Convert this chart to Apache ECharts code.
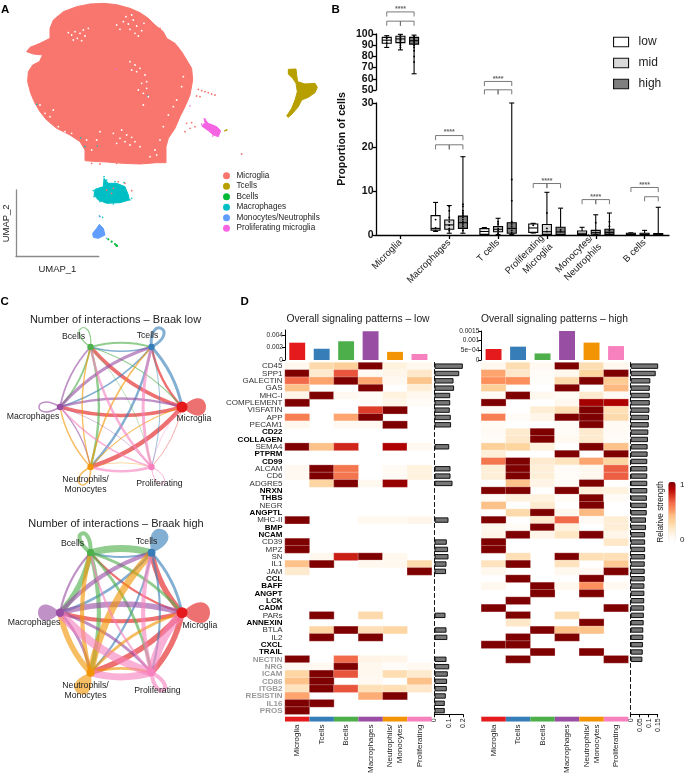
<!DOCTYPE html>
<html><head><meta charset="utf-8">
<style>html,body{margin:0;padding:0;background:#fff}#c{width:685px;height:776px}</style>
<script src="https://cdn.jsdelivr.net/npm/echarts@6/dist/echarts.min.js"></script>
</head><body><div id="c"></div>
<script>
// ---------- Panel A data: UMAP embedding outlines and stray cells ----------
const umapMicrogliaOutline=[[270,12],[310,10],[350,14],[390,25],[420,38],[445,55],[465,75],[490,95],[500,115],[525,130],[545,155],[560,180],[575,205],[578,240],[570,285],[555,320],[540,350],[525,385],[505,415],[498,440],[498,488],[470,488],[420,492],[370,490],[320,486],[280,484],[255,482],[255,450],[240,425],[210,405],[170,385],[140,360],[120,335],[105,310],[92,280],[83,245],[85,215],[98,195],[118,185],[128,165],[100,162],[80,155],[90,142],[120,130],[150,115],[150,85],[160,60],[190,35],[230,20]];
const umapTcellOutline=[[865,208],[888,207],[890,225],[893,245],[915,252],[945,250],[952,262],[945,278],[925,292],[905,300],[895,320],[878,340],[865,352],[860,348],[875,325],[885,300],[892,275],[888,250],[878,235],[865,222]];
const umapMacrophageOutline=[[312,535],[325,550],[350,550],[375,560],[385,585],[388,600],[360,608],[320,610],[295,600],[282,585],[285,568],[310,560]];
const umapMonocyteOutline=[[298,673],[310,685],[315,705],[295,715],[280,712],[278,700],[290,685]];
const umapProliferatingOutline=[[612,355],[625,370],[650,380],[662,392],[655,410],[640,405],[625,392],[605,378],[615,368]];
const umapGaps=[[225,95],[240,100],[250,90],[215,105],[232,115],[255,108],[265,85],[245,122],[220,120],[205,98],[370,65],[385,72],[400,60],[390,88],[410,78],[425,92],[378,50],[405,100],[395,45],[432,70],[350,75],[360,88],[415,108],[390,185],[405,195],[420,205],[435,225],[425,250],[440,265],[430,280],[415,270],[445,290],[430,315],[410,215],[395,210],[440,245],[360,415],[375,425],[390,435],[405,425],[380,405],[395,412],[350,430],[420,440],[465,450],[450,470],[470,465],[340,400],[365,390],[135,340],[150,350],[175,380],[195,395],[215,400],[120,315],[160,330],[230,440],[275,450],[290,420],[300,395],[260,420],[520,320],[505,345],[490,380],[530,300],[545,260],[550,230],[480,420]];
const umapMicrogliaStray=[[85,240],[560,370],[575,368],[585,380],[570,385],[555,395],[600,290],[590,288],[725,462],[275,490],[300,492],[350,490],[510,125],[480,85],[595,268],[605,272],[615,275],[625,278],[635,282],[645,285],[320,570],[340,565],[355,545],[335,580],[395,572],[375,550]];
const umapMacrophageStray=[[312,530],[320,540],[298,648],[308,652],[395,595],[110,313],[443,288],[242,414],[255,440],[292,438],[280,572],[282,590],[300,605],[340,612],[390,600],[372,548],[345,545]];
const umapMonocyteStray=[[320,715],[300,650],[306,692]];
const umapBcellStray=[[325,718],[335,725],[345,732],[350,737],[351,738],[349,736]];
const umapProliferatingStray=[[570,318],[348,208],[605,372],[638,408],[616,358]];
const umapTcellStray=[[680,390],[675,392]];
const umapLegendNames=['Microglia','Tcells','Bcells','Macrophages','Monocytes/Neutrophils','Proliferating microglia'];
const umapColors=['#F8766D','#B79F00','#00BA38','#00BFC4','#619CFF','#F564E3'];

// ---------- Panel B data ----------
const cellCategories=['Microglia','Macrophages','T cells','Proliferating\nMicroglia','Monocytes/\nNeutrophils','B cells'];
const upperTicks=[50,60,70,80,90,100];
const lowerTicks=[0,10,20,30];
// [category, min, q1, median, q3, max]
const boxLow=[[0,88,91.7,94.5,97,98.5],[1,0.8,1.1,1.5,4.4,7.4],[2,0,0.15,0.8,1.45,1.7],[3,0.45,0.6,1.6,2.5,2.65],[4,0,0.1,0.4,0.9,1.75],[5,0,0.1,0.2,0.4,0.5]];
const boxMid=[[0,85.8,92.3,95.6,98,99.7],[1,0.4,1.3,2.3,3.4,6.7],[2,0.1,0.75,1.3,1.9,3.8],[3,0,0.15,0.75,2.4,9.7],[4,0.05,0.2,0.6,1.05,4.6],[5,0,0.1,0.15,0.4,1.05]];
const boxHigh=[[0,64.5,91,94,97,99],[1,0.4,1.5,2.8,4.3,17.8],[2,0.1,0.4,1.5,2.8,30],[3,0,0.1,0.7,1.75,6.1],[4,0,0.15,0.6,1.3,5],[5,0,0.05,0.15,0.35,6.3]];
const dotsLow=[[0,94],[0,96],[0,92],[1,3.5],[1,1.6],[1,1],[3,2.2]];
const dotsMid=[[0,99],[0,97],[0,96],[0,95],[0,94],[0,93],[0,92],[0,90],[0,88],[1,6.5],[1,5.5],[1,4],[1,3],[1,2.2],[1,1.5],[1,1],[2,3],[2,2.5],[2,1.5],[2,1],[2,0.4],[3,5],[3,1.5],[3,0.8],[4,2.8],[4,1],[4,0.5]];
const dotsHigh=[[0,98],[0,97],[0,96],[0,95],[0,94],[0,93],[0,92],[0,90],[0,88],[0,85],[0,80],[0,75],[1,7],[1,6.5],[1,5.5],[1,5],[1,4.5],[1,4],[1,3.5],[1,3],[1,2.5],[1,2],[1,1.5],[1,1],[2,12.6],[2,7.8],[2,3],[2,2.5],[2,2],[2,1.5],[2,1],[2,0.5],[3,1.2],[3,0.8],[4,3],[4,2],[4,1],[4,0.5]];
// [category, from group, to group, level]
const brackets=[[0,-1,1,50.7],[0,-1,0,48.6],[0,0,1,48.6],[1,-1,1,22.6],[1,-1,0,20.5],[1,0,1,20.5],[2,-1,1,34.9],[2,-1,0,33],[2,0,1,33],[3,-1,0,11.7],[3,0,1,11.7],[4,-1,0,8.05],[4,0,1,8.05],[5,-1,1,10.8],[5,0,1,8.7]];
// [category, level]
const starMarks=[[0,51.4],[1,23.3],[2,35.5],[3,12.3],[4,8.6],[5,11.3]];
const starText='****';
const severityNames=['low','mid','high'];

// ---------- Panel C data ----------
const nodeNames=['Microglia','Tcells','Bcells','Macrophages','Neutrophils/\nMonocytes','Proliferating'];
const nodeX=[1,0.5,-0.5,-1,-0.5,0.5];
const nodeY=[0,1,1,0,-1,-1];
const cellColors=['#E41A1C','#377EB8','#4DAF4A','#984EA3','#F29403','#F781BF'];
const interactionsLow=[
 [0,2.4,3.6,3.6,4.2,0.6],
 [3,3,1.4,1.8,2.4,0.8],
 [1.2,1.8,1.2,1.8,2.4,0.6],
 [2.4,3,1.8,1.5,1.2,0.6],
 [1.2,1.8,1.4,1.4,1.5,0.6],
 [0.6,3,2.4,1.8,2.4,1]];
const interactionsHigh=[
 [0,5.6,2.1,4.2,5.6,5.6],
 [2.8,0,2.1,2.8,2.1,2.1],
 [2.8,7,4,5.6,4.2,2.8],
 [5.6,4.2,2.1,0,2.8,2.8],
 [2.8,7,4.2,5.6,0,2.8],
 [8.4,4.2,2.1,8.4,7,4]];
const loopFilledLow=[true,false,false,false,false,false];
const loopFilledHigh=[true,true,false,true,true,false];

// ---------- Panel D data ----------
const signalingRows=['CD45','SPP1','GALECTIN','GAS','MHC-I','COMPLEMENT','VISFATIN','APP','PECAM1','CD22','COLLAGEN','SEMA4','PTPRM','CD99','ALCAM','CD6','ADGRE5','NRXN','THBS','NEGR','ANGPTL','MHC-II','BMP','NCAM','CD39','MPZ','SN','IL1','JAM','CCL','BAFF','ANGPT','LCK','CADM','PARs','ANNEXIN','BTLA','IL2','CXCL','TRAIL','NECTIN','NRG','ICAM','CD86','ITGB2','RESISTIN','IL16','PROS'];
const boldRows=['CD22','COLLAGEN','PTPRM','CD99','NRXN','THBS','ANGPTL','BMP','NCAM','CCL','BAFF','ANGPT','LCK','CADM','ANNEXIN','CXCL','TRAIL'];
const greyRows=['NECTIN','NRG','ICAM','CD86','ITGB2','RESISTIN','IL16','PROS'];
const signalingColumns=['Microglia','Tcells','Bcells','Macrophages','Neutrophils/\nMonocytes','Proliferating'];
const heatLow=[
[.1,.3,.35,1,.15,.1],[1,.2,.7,.07,.12,.22],[.65,.5,1,.5,.08,.4],[.42,0,0,1,0,.18],[.12,1,.08,.05,.15,.1],[1,0,0,.04,.12,.04],[0,0,0,.75,1,0],[.6,0,.5,1,0,0],[.1,0,.08,.08,1,0],
[0,0,0,0,0,0],[0,0,0,0,0,0],[1,.42,.8,0,.9,.08],[0,0,0,0,0,0],[0,0,0,0,0,0],[.08,1,.62,0,.07,.15],[.08,1,.62,0,.07,.15],[0,.32,1,.1,.95,0],
[0,0,0,0,0,0],[0,0,0,0,0,0],[0,0,0,0,0,0],[0,0,0,0,0,0],[1,0,0,.1,.1,.12],[0,0,0,0,0,0],[0,0,0,0,0,0],[1,0,0,0,0,0],[1,0,0,0,0,0],[0,.1,.82,1,.1,0],[.42,1,0,.1,.1,.3],[.2,0,0,0,0,1],
[0,0,0,0,0,0],[0,0,0,0,0,0],[0,0,0,0,0,0],[0,0,0,0,0,0],[0,0,0,0,0,0],[0,1,0,.3,0,0],[0,0,0,0,0,0],[0,.32,1,.27,.32,0],[0,1,0,1,0,0],[0,0,0,0,0,0],[0,0,0,0,0,0],
[1,0,.65,.13,.12,0],[.08,.08,1,.1,.05,.08],[.32,1,.7,.1,.28,.2],[.42,1,0,.08,0,.42],[.25,1,.7,.27,.27,.22],[.5,0,0,.48,1,0],[1,1,0,0,0,0],[1,0,0,0,0,0]];
const heatHigh=[
[.1,.28,.08,1,.28,.1],[.5,.22,.05,.1,.33,1],[.55,.55,.03,.3,1,.38],[.35,0,0,1,0,.45],[.06,1,.1,.06,.2,.07],[1,0,0,.1,.92,.9],[.07,0,.18,.27,1,.27],[.6,.05,.12,1,1,.3],[.06,0,0,.05,1,.07],
[.07,.2,1,.05,.2,.07],[.04,.22,1,.08,.2,.04],[.35,.33,.15,0,1,.42],[.17,0,0,1,0,1],[.62,1,.2,.25,.5,.32],[.17,1,.17,.05,.1,.68],[.17,1,.17,.05,.1,.68],[0,.42,.13,.05,1,0],
[1,1,0,1,.16,.15],[.05,.15,.15,.05,1,.05],[.42,0,.2,0,1,0],[0,.3,1,.1,.45,0],[1,0,.2,.65,.07,.18],[.1,.05,1,.15,0,.18],[.12,1,.12,.23,1,.12],[1,0,0,0,0,.22],[1,0,0,0,0,0],[0,.27,0,1,.27,.27],[.25,1,0,.25,0,.38],[.1,0,0,.1,.08,1],
[0,1,0,0,1,0],[.1,0,1,.1,.55,.08],[0,0,1,0,1,0],[0,1,0,0,0,0],[1,0,0,0,0,1],[0,1,0,.28,0,0],[0,.22,0,0,1,0],[0,0,1,.42,.42,0],[0,1,0,1,0,0],[1,1,0,0,0,0],[0,0,1,0,1,0],[0,1,0,0,0,1]];
const outgoingLow=[.00277,.0018,.003,.0046,.0013,.00096];
const outgoingHigh=[.00057,.00069,.00034,.0015,.0009,.00072];
const outgoingTicksLow=[0,.002,.004];
const outgoingTickLabelsLow=['0','0.002','0.004'];
const outgoingTicksHigh=[0,.0005,.001,.0015];
const outgoingTickLabelsHigh=['0','5e\u221204','0.001','0.0015'];
const totalsLow=[.198,.173,.133,.137,.11,.11,.107,.114,.116,null,null,.103,null,null,.112,.112,.126,null,null,null,null,.098,null,null,.086,.095,.098,.084,.081,null,null,null,null,null,.077,null,.084,.09,null,null,.084,.103,.093,.088,.086,.079,.072,.072];
const totalsHigh=[.156,.139,.109,.106,.106,.106,.104,.102,.1,.098,.096,.094,.094,.092,.092,.092,.092,.092,.09,.09,.089,.085,.085,.08,.08,.08,.08,.078,.078,.078,.076,.076,.075,.075,.073,.072,.07,.07,.068,.067,.065];
const totalTicksLow=[0,.1,.2];
const totalTicksHigh=[0,.05,.1,.15];
const orRd=['#FFFFFF','#FFF7EC','#FEE8C8','#FDD49E','#FDBB84','#FC8D59','#EF6548','#D7301F','#B30000','#7F0000'];

// ---------- Option assembly ----------
const font='"Liberation Sans", Arial, sans-serif';
const ink='#222';
const grid=[],xAxis=[],yAxis=[],series=[];
function addGrid(box,x,y){grid.push(Object.assign({containLabel:false,show:false},box));const i=grid.length-1;xAxis.push(Object.assign({gridIndex:i},x));yAxis.push(Object.assign({gridIndex:i},y));return i;}
const hiddenVal=(min,max,extra)=>Object.assign({type:'value',min,max,show:false,splitLine:{show:false}},extra||{});

// ---- Panel A ----
const gA=addGrid({left:0,top:0,width:330,height:290},hiddenVal(0,990),hiddenVal(0,870,{inverse:true}));
function blob(name,color,outline){series.push({type:'custom',name,xAxisIndex:gA,yAxisIndex:gA,data:outline,encode:{x:0,y:1},itemStyle:{color},silent:true,
  renderItem:(p,api)=>p.dataIndex!==0?null:{type:'polygon',shape:{points:outline.map(q=>api.coord(q))},style:{fill:color,stroke:color,lineWidth:1}}});}
function specks(name,color,data,size,z){series.push({type:'scatter',name,xAxisIndex:gA,yAxisIndex:gA,data,symbolSize:size,itemStyle:{color,opacity:1},silent:true,z:z||2,clip:false});}
blob(umapLegendNames[0],umapColors[0],umapMicrogliaOutline);
specks('gaps','#fff',umapGaps,1.8,3);
specks(umapLegendNames[0],umapColors[0],umapMicrogliaStray,1.8,4);
blob(umapLegendNames[1],umapColors[1],umapTcellOutline);
specks(umapLegendNames[1],umapColors[1],umapTcellStray,1.8);
specks(umapLegendNames[2],umapColors[2],umapBcellStray,2.2);
blob(umapLegendNames[3],umapColors[3],umapMacrophageOutline);
specks(umapLegendNames[3],umapColors[3],umapMacrophageStray,1.6);
blob(umapLegendNames[4],umapColors[4],umapMonocyteOutline);
specks(umapLegendNames[4],umapColors[4],umapMonocyteStray,1.6);
blob(umapLegendNames[5],umapColors[5],umapProliferatingOutline);
specks(umapLegendNames[5],umapColors[5],umapProliferatingStray,1.6);
const axisGrey={show:true,lineStyle:{color:'#8a8a8a',width:1.3}};
addGrid({left:15.3,top:190,width:83.5,height:66.7},
 {type:'value',min:0,max:1,name:'UMAP_1',nameLocation:'middle',nameGap:8,nameTextStyle:{fontSize:9.5,color:ink},axisLine:axisGrey,axisTick:{show:false},axisLabel:{show:false},splitLine:{show:false}},
 {type:'value',min:0,max:1,name:'UMAP_2',nameLocation:'middle',nameGap:5,nameTextStyle:{fontSize:9.5,color:ink},axisLine:axisGrey,axisTick:{show:false},axisLabel:{show:false},splitLine:{show:false}});

// ---- Panel B ----
const blackAxis={show:true,onZero:false,lineStyle:{color:'#000',width:1.3}};
const blackTick={show:true,length:4,lineStyle:{color:'#000',width:1.3}};
const boldLabel={fontSize:10.5,fontWeight:'bold',color:'#111',margin:2.5};
const gBU=addGrid({left:376,top:34,width:293,height:56},
 {type:'category',data:cellCategories,show:false},
 {type:'value',min:50,max:100,axisLine:blackAxis,axisTick:blackTick,axisLabel:Object.assign({customValues:upperTicks},boldLabel),splitLine:{show:false}});
yAxis[gBU].axisTick=Object.assign({customValues:upperTicks},blackTick);
const gBL=addGrid({left:376,top:103,width:293,height:132},
 {type:'category',data:cellCategories,boundaryGap:true,axisLine:blackAxis,axisTick:Object.assign({alignWithLabel:true},blackTick),axisLabel:{rotate:45,fontSize:9.5,color:'#222',interval:0,margin:6,lineHeight:12}},
 {type:'value',min:0,max:30,axisLine:blackAxis,axisTick:Object.assign({customValues:lowerTicks},blackTick),axisLabel:Object.assign({customValues:lowerTicks},boldLabel),splitLine:{show:false}});
const groupStep=0.28;
const boxFill=['#ffffff','#D9D9D9','#7F7F7F'];
function boxRender(g){return (p,api)=>{
  const c=api.value(0),band=api.size([1,0])[0];
  const x=api.coord([c,0])[0]+g*groupStep*band;
  const y=[1,2,3,4,5].map(i=>api.coord([c,api.value(i)])[1]);
  const w=4.5,cap=2.5;
  const ls={stroke:'#000',lineWidth:1.1,fill:null};
  return {type:'group',children:[
    {type:'line',shape:{x1:x,y1:y[0],x2:x,y2:y[4]},style:ls},
    {type:'line',shape:{x1:x-cap,y1:y[0],x2:x+cap,y2:y[0]},style:ls},
    {type:'line',shape:{x1:x-cap,y1:y[4],x2:x+cap,y2:y[4]},style:ls},
    {type:'rect',shape:{x:x-w,y:y[3],width:2*w,height:y[1]-y[3]},style:{fill:boxFill[g+1],stroke:'#000',lineWidth:1.1}},
    {type:'line',shape:{x1:x-w,y1:y[2],x2:x+w,y2:y[2]},style:ls}]};
};}
function dotRender(g){return (p,api)=>{
  const c=api.value(0),band=api.size([1,0])[0];
  const pt=api.coord([c,api.value(1)]);
  return {type:'circle',shape:{cx:pt[0]+g*groupStep*band,cy:pt[1],r:0.95},style:{fill:'#000'}};
};}
[boxLow,boxMid,boxHigh].forEach((rows,i)=>{
  const g=i-1,name=severityNames[i];
  series.push({type:'custom',name,xAxisIndex:gBU,yAxisIndex:gBU,data:rows.slice(0,1),encode:{x:0,y:[1,2,3,4,5]},renderItem:boxRender(g),itemStyle:{color:boxFill[i]},silent:true,z:3});
  series.push({type:'custom',name,xAxisIndex:gBL,yAxisIndex:gBL,data:rows.slice(1),encode:{x:0,y:[1,2,3,4,5]},renderItem:boxRender(g),itemStyle:{color:boxFill[i]},silent:true,z:3});
});
[dotsLow,dotsMid,dotsHigh].forEach((rows,i)=>{
  const g=i-1;
  series.push({type:'custom',name:'dots-u'+i,xAxisIndex:gBU,yAxisIndex:gBU,data:rows.filter(r=>r[0]===0),encode:{x:0,y:1},renderItem:dotRender(g),silent:true,z:4});
  series.push({type:'custom',name:'dots-l'+i,xAxisIndex:gBL,yAxisIndex:gBL,data:rows.filter(r=>r[0]!==0),encode:{x:0,y:1},renderItem:dotRender(g),silent:true,z:4});
});
series.push({type:'custom',name:'brackets',xAxisIndex:gBL,yAxisIndex:gBL,data:brackets,encode:{x:0,y:3},silent:true,clip:false,z:5,
 renderItem:(p,api)=>{
  const c=api.value(0),band=api.size([1,0])[0],x0=api.coord([c,0])[0];
  const xa=x0+api.value(1)*groupStep*band,xb=x0+api.value(2)*groupStep*band;
  const yt=api.coord([c,api.value(3)])[1],yd=yt+4.6;
  return {type:'polyline',shape:{points:[[xa,yd],[xa,yt],[xb,yt],[xb,yd]]},style:{stroke:'#6a6a6a',lineWidth:0.9,fill:null}};
 }});
series.push({type:'custom',name:'stars',xAxisIndex:gBL,yAxisIndex:gBL,data:starMarks,encode:{x:0,y:1},silent:true,clip:false,z:5,
 renderItem:(p,api)=>{
  const pt=api.coord([api.value(0),api.value(1)]);
  return {type:'text',x:pt[0],y:pt[1],style:{text:starText,fill:'#666',font:'bold 7px '+font,align:'center',verticalAlign:'middle'}};
 }});

// ---- Panel C ----
function addChord(top,matrix,loopFilled,loopTip,loopSpread,labelOffset,nodeRadius){
  const g=addGrid({left:60,top,width:122,height:120},hiddenVal(-1,1),hiddenVal(-1,1));
  const rows=[];
  matrix.forEach((r,i)=>r.forEach((w,j)=>{rows.push([nodeX[i],nodeY[i],nodeX[j],nodeY[j],w,i,j]);}));
  series.push({type:'custom',name:'edges',xAxisIndex:g,yAxisIndex:g,data:rows,encode:{x:0,y:1},silent:true,clip:false,z:2,
   renderItem:(p,api)=>{
    const a=api.coord([api.value(0),api.value(1)]),b=api.coord([api.value(2),api.value(3)]);
    const w=api.value(4),i=api.value(5),j=api.value(6),col=cellColors[i];
    if(i===j){
      const t=loopAngle[i]*Math.PI/180,u=[Math.cos(t),Math.sin(t)],v=[-u[1],u[0]];
      const L=loopTip[i]*4/3,s=loopSpread[i];
      return {type:'bezierCurve',shape:{x1:a[0],y1:a[1],x2:a[0],y2:a[1],
        cpx1:a[0]+u[0]*L+v[0]*s,cpy1:a[1]+u[1]*L+v[1]*s,cpx2:a[0]+u[0]*L-v[0]*s,cpy2:a[1]+u[1]*L-v[1]*s},
        style:loopFilled[i]?{stroke:'none',lineWidth:0,fill:col,opacity:0.62}:{stroke:col,lineWidth:w,fill:'none',opacity:0.62}};
    }
    const dx=b[0]-a[0],dy=b[1]-a[1];
    const mx=(a[0]+b[0])/2+dy*0.14,my=(a[1]+b[1])/2-dx*0.14;
    return {type:'bezierCurve',shape:{x1:a[0],y1:a[1],x2:b[0],y2:b[1],cpx1:mx,cpy1:my},style:{stroke:col,lineWidth:w,fill:'none',opacity:0.62}};
   }});
  series.push({type:'custom',name:'nodes',xAxisIndex:g,yAxisIndex:g,data:nodeNames.map((n,i)=>[nodeX[i],nodeY[i],i]),encode:{x:0,y:1},silent:true,clip:false,z:3,
   renderItem:(p,api)=>{
    const i=api.value(2),c=api.coord([api.value(0),api.value(1)]);
    return {type:'group',children:[
      {type:'circle',shape:{cx:c[0],cy:c[1],r:nodeRadius[i]},style:{fill:cellColors[i]},z2:1},
      {type:'text',z2:2,x:c[0]+labelOffset[i][0],y:c[1]+labelOffset[i][1],style:{text:nodeNames[i],fill:ink,font:'8.7px '+font,align:'center',verticalAlign:'middle',lineHeight:10}}]};
   }});
}
const loopAngle=[0,-62,-115,180,120,55];
addChord(347,interactionsLow,loopFilledLow,[24,21,21,21,20,20],[30,19,17,17,17,15],[[12,12],[-4,-11],[-17,-10],[-27,10],[-5,18],[8,17]],[5.5,3.2,3.2,3.2,3.2,3.2]);
addChord(552.7,interactionsHigh,loopFilledHigh,[28,26,21,22,24,21],[36,30,15,28,28,15],[[18,13],[-5,-11],[-18,-9],[-26,10],[-5,18],[6,18]],[5.5,4,3.6,4.2,4,3.6]);

// ---- Panel D ----
const rowLabel=name=>{
  if(greyRows.includes(name))return '{g|'+name+'}';
  if(boldRows.includes(name))return '{b|'+name+'}';
  return '{n|'+name+'}';
};
function addPanelD(cfg){
  const left=cfg.left,width=cfg.width,top=362.5,h=351.8;
  const gT=addGrid({left,top:cfg.barTop,width,height:360-cfg.barTop},
    {type:'category',data:signalingColumns,show:false},
    {type:'value',min:0,max:cfg.barMax,splitLine:{show:false},
     axisLine:{show:true,lineStyle:{color:'#000',width:1}},
     axisTick:{show:true,length:3,customValues:cfg.barTicks,lineStyle:{color:'#000'}},
     axisLabel:{customValues:cfg.barTicks,fontSize:6.6,color:ink,margin:2,formatter:v=>{const k=cfg.barTicks.findIndex(t=>Math.abs(t-v)<1e-9);return k<0?'':cfg.barTickLabels[k];}}});
  series.push({type:'bar',name:'outgoing',xAxisIndex:gT,yAxisIndex:gT,data:cfg.bars,barWidth:'65%',silent:true,itemStyle:{color:p=>cellColors[p.dataIndex]}});
  const gH=addGrid({left,top,width,height:h},
    {type:'category',data:signalingColumns,show:false},
    {type:'category',data:signalingRows,inverse:true,axisLine:{show:false},axisTick:{show:false},
     axisLabel:cfg.showRows?{show:true,interval:0,margin:2.5,formatter:rowLabel,rich:{
       n:{fontSize:8,color:'#333'},b:{fontSize:8,color:'#000',fontWeight:'bold'},g:{fontSize:8,color:'#9a9a9a',fontWeight:'bold'}}}:{show:false}});
  const cells=[];cfg.matrix.forEach((r,y)=>r.forEach((v,x)=>{if(v>0)cells.push([x,y,v]);}));
  series.push({type:'heatmap',name:'strength',xAxisIndex:gH,yAxisIndex:gH,data:cells,silent:true,itemStyle:{borderColor:'rgba(255,255,255,0.55)',borderWidth:0.5}});
  cfg.heatIndex.push(series.length-1);
  const gR=addGrid({left:cfg.totalLeft,top,width:cfg.totalWidth,height:h},
    {type:'value',min:0,max:cfg.totalMax,splitLine:{show:false},
     axisLine:{show:true,lineStyle:{color:'#000',width:1}},
     axisTick:{show:true,length:3,customValues:cfg.totalTicks,lineStyle:{color:'#000'}},
     axisLabel:{customValues:cfg.totalTicks,rotate:90,fontSize:7,color:ink,margin:4}},
    {type:'category',data:signalingRows,inverse:true,axisTick:{show:false},axisLabel:{show:false},
     axisLine:{show:true,onZero:false,lineStyle:{color:'#111',width:1,type:[4,3]}}});
  series.push({type:'bar',name:'total',xAxisIndex:gR,yAxisIndex:gR,data:cfg.totals,barWidth:5.4,silent:true,itemStyle:{color:'#777',borderColor:'#111',borderWidth:1}});
  const gS=addGrid({left,top:716.7,width,height:6},
    {type:'category',data:signalingColumns,axisLine:{show:false},axisTick:{show:false},axisLabel:{rotate:90,interval:0,fontSize:8,color:ink,margin:3,lineHeight:10}},
    {type:'value',min:0,max:1,show:false,splitLine:{show:false}});
  series.push({type:'bar',name:'strip',xAxisIndex:gS,yAxisIndex:gS,data:signalingColumns.map(()=>1),barWidth:'100%',barCategoryGap:'0%',silent:true,itemStyle:{color:p=>cellColors[p.dataIndex]}});
}
const heatIndex=[];
addPanelD({left:285,width:146.7,barTop:330,barMax:.0048,barTicks:outgoingTicksLow,barTickLabels:outgoingTickLabelsLow,bars:outgoingLow,matrix:heatLow,showRows:true,heatIndex,totalLeft:434.5,totalWidth:28.6,totalMax:.2,totalTicks:totalTicksLow,totals:totalsLow});
addPanelD({left:481.3,width:147,barTop:331,barMax:.0015,barTicks:outgoingTicksHigh,barTickLabels:outgoingTickLabelsHigh,bars:outgoingHigh,matrix:heatHigh,showRows:false,heatIndex,totalLeft:630.7,totalWidth:27,totalMax:.15,totalTicks:totalTicksHigh,totals:totalsHigh});

const panelTitles=[['A',1,3.5],['B',331.5,3.5],['C',0.5,296],['D',240.5,296]].map(([text,left,top])=>({text,left,top,padding:0,textStyle:{fontSize:11.5,fontWeight:'bold',color:'#000'}}));
const headings=[['Number of interactions \u2013 Braak low',115.5,314,11],['Number of interactions \u2013 Braak high',116,518,11],['Overall signaling patterns \u2013 low',358,314.5,10.3],['Overall signaling patterns \u2013 high',554.5,314.5,10.3]].map(([text,left,top,fontSize])=>({text,left,top,textAlign:'center',padding:0,textStyle:{fontSize,fontWeight:'normal',color:ink}}));

const option={
  animation:false,tooltip:{show:false},textStyle:{fontFamily:font},
  title:panelTitles.concat(headings),
  grid,xAxis,yAxis,series,
  legend:[
   {orient:'vertical',left:223,top:171.7,padding:0,itemWidth:8,itemHeight:7,itemGap:2.5,icon:'circle',selectedMode:false,
    textStyle:{fontSize:8.2,color:ink,padding:[0,0,0,1]},
    data:umapLegendNames.map((name,i)=>({name,itemStyle:{color:umapColors[i]}}))},
   {orient:'vertical',left:613,top:36,padding:0,itemWidth:15,itemHeight:9.5,itemGap:9,selectedMode:false,
    textStyle:{fontSize:12,color:ink,padding:[0,0,0,5]},
    data:severityNames.map((name,i)=>({name,icon:'rect',itemStyle:{color:boxFill[i],borderColor:'#111',borderWidth:1.1}}))}
  ],
  visualMap:{type:'continuous',min:0,max:1,seriesIndex:heatIndex,inRange:{color:orRd},left:668.3,top:482,padding:0,itemWidth:7.4,itemHeight:60,calculable:false,hoverLink:false,text:null,showLabel:false,textStyle:{fontSize:1,color:'rgba(0,0,0,0)'},formatter:()=>''},
  graphic:[
   {type:'text',x:341.7,y:139,rotation:Math.PI/2,style:{text:'Proportion of cells',font:'bold 10.6px '+font,fill:'#111',align:'center',verticalAlign:'middle'}},
   {type:'text',x:660.7,y:512,rotation:Math.PI/2,style:{text:'Relative strength',font:'8.2px '+font,fill:ink,align:'center',verticalAlign:'middle'}},
   {type:'text',x:680,y:485,style:{text:'1',font:'8px '+font,fill:ink,verticalAlign:'middle'}},
   {type:'text',x:680,y:540,style:{text:'0',font:'8px '+font,fill:ink,verticalAlign:'middle'}}
  ]
};
const chart=echarts.init(document.getElementById('c'),null,{renderer:'canvas',width:685,height:776});
chart.setOption(option);
</script></body></html>
